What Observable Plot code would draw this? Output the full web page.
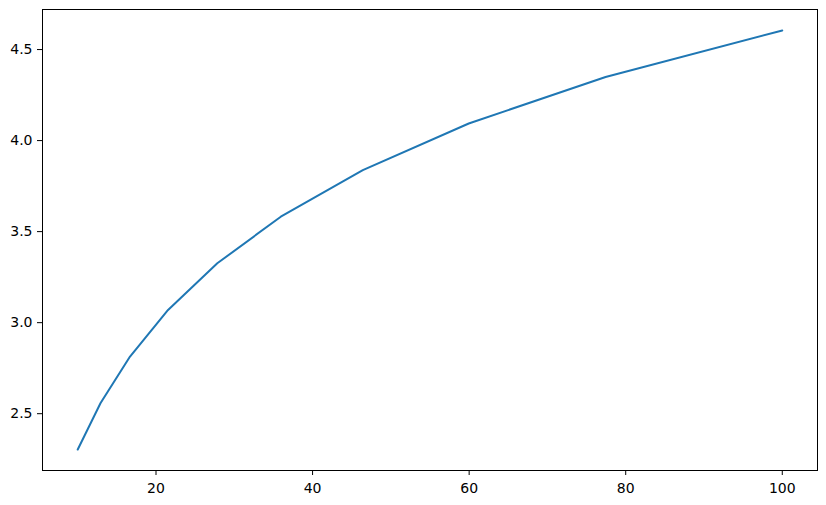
<!DOCTYPE html>
<html><head><meta charset="utf-8">
<script src="https://cdn.jsdelivr.net/npm/d3@7"></script>
<script src="https://cdn.jsdelivr.net/npm/@observablehq/plot@0.6"></script>
<style>body{margin:0;background:#fff;}</style>
</head><body><div id="chart"></div>
<script>
const xs = [10, 12.92, 16.68, 21.54, 27.83, 35.94, 46.42, 59.95, 77.43, 100];
const ys = [2.303, 2.559, 2.814, 3.070, 3.326, 3.582, 3.838, 4.094, 4.349, 4.605];
const xTicks = [20, 40, 60, 80, 100];
const yTicks = [2.5, 3.0, 3.5, 4.0, 4.5];
const data = xs.map((x, i) => ({x, y: ys[i]}));

const chart = Plot.plot({
  width: 826, height: 505,
  marginLeft: 42, marginRight: 9, marginTop: 9, marginBottom: 35,
  style: {fontFamily: "'DejaVu Sans'", fontSize: "14px", color: "#000", background: "#fff"},
  x: {domain: [5.5, 104.5]},
  y: {domain: [2.188, 4.720]},
  marks: [
    Plot.axisX({ticks: xTicks, tickSize: 5, tickPadding: 8, fontSize: 14, fill: "#000", tickFormat: d => String(d), label: null, stroke: "#000"}),
    Plot.axisY({ticks: yTicks, tickSize: 5, tickPadding: 5, fontSize: 14, fill: "#000", tickFormat: d => d.toFixed(1), label: null, stroke: "#000"}),
    Plot.line(data, {x: "x", y: "y", stroke: "#1f77b4", strokeWidth: 2}),
    Plot.frame({stroke: "#000", strokeWidth: 1})
  ]
});
document.getElementById("chart").appendChild(chart);
</script>
</body></html>
